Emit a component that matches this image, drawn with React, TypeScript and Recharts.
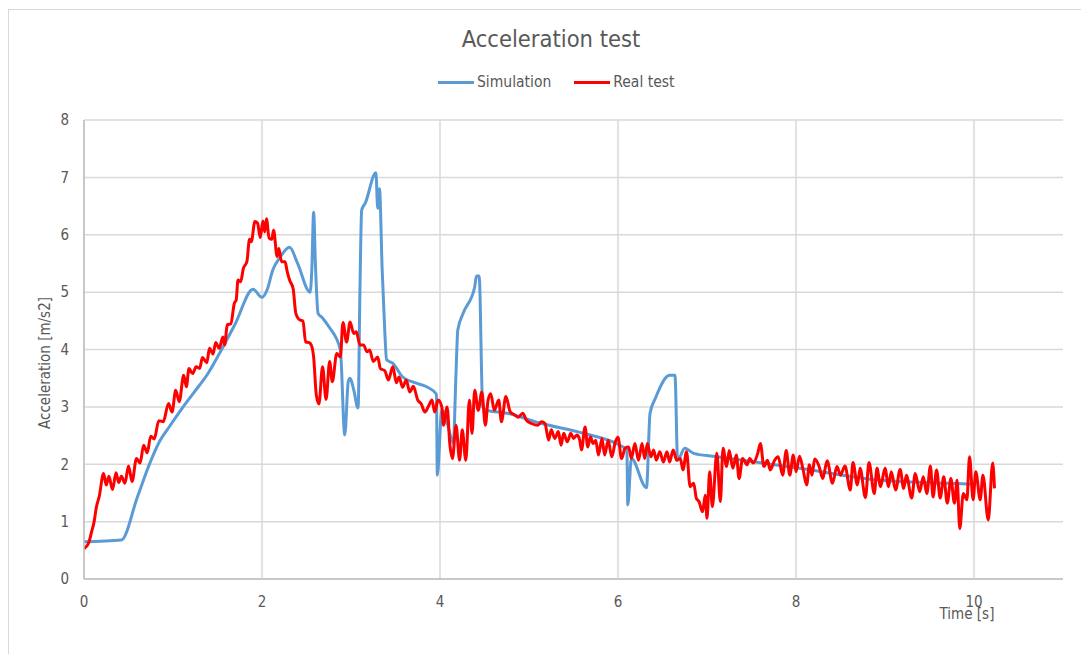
import { LineChart, Line, XAxis, YAxis, CartesianGrid } from 'recharts';

// [time s, acceleration m/s2]
const simulation: [number, number][] = [
  [0, 0.65], [0.42, 0.68], [0.6, 1.43], [0.74, 2.02], [0.85, 2.4], [0.97, 2.68], [1.1, 2.97], [1.23, 3.24],
  [1.4, 3.6], [1.56, 4.04], [1.7, 4.45], [1.9, 5.05], [2.0, 4.91], [2.06, 5.05], [2.12, 5.38],
  [2.2, 5.6], [2.31, 5.78], [2.4, 5.5], [2.54, 5.0], [2.56, 5.4], [2.58, 6.39], [2.6, 5.5],
  [2.63, 4.63], [2.68, 4.55], [2.75, 4.4], [2.88, 4.0], [2.93, 2.51], [2.97, 3.45], [2.99, 3.5],
  [3.03, 3.3], [3.08, 2.98], [3.1, 5.0], [3.12, 6.43], [3.16, 6.55], [3.28, 7.08], [3.3, 6.46],
  [3.32, 6.8], [3.35, 5.4], [3.38, 4.3], [3.4, 3.82], [3.47, 3.76], [3.58, 3.52], [3.7, 3.43],
  [3.85, 3.35], [3.96, 3.22], [3.97, 1.81], [4.02, 2.94], [4.06, 2.85], [4.1, 2.6], [4.15, 2.37],
  [4.18, 3.6], [4.2, 4.34], [4.26, 4.63], [4.39, 5.09], [4.41, 5.28], [4.44, 5.28], [4.48, 3.0],
  [4.52, 2.94], [4.75, 2.89], [5.12, 2.72], [5.61, 2.54], [6.02, 2.33], [6.1, 2.25], [6.11, 1.29],
  [6.15, 2.1], [6.32, 1.59], [6.36, 2.89], [6.42, 3.15], [6.58, 3.55], [6.64, 3.55], [6.67, 2.07],
  [6.75, 2.28], [6.85, 2.19], [7.07, 2.14], [7.82, 1.98], [8.04, 1.93], [8.94, 1.72], [9.69, 1.67],
  [10.0, 1.65],
];

const realTest: [number, number][] = [
  [0, 0.53], [0.05, 0.62], [0.09, 0.85], [0.11, 0.97], [0.14, 1.26], [0.17, 1.43], [0.22, 1.84],
  [0.25, 1.64], [0.28, 1.79], [0.32, 1.56], [0.36, 1.85], [0.39, 1.68], [0.42, 1.79], [0.46, 1.67],
  [0.5, 1.97], [0.54, 1.7], [0.59, 2.1], [0.63, 2.02], [0.67, 2.33], [0.71, 2.2], [0.75, 2.49],
  [0.79, 2.44], [0.84, 2.76], [0.89, 2.74], [0.95, 3.06], [0.99, 2.91], [1.03, 3.29], [1.07, 3.09],
  [1.12, 3.55], [1.15, 3.35], [1.18, 3.67], [1.22, 3.58], [1.26, 3.7], [1.3, 3.67], [1.33, 3.86],
  [1.38, 3.77], [1.41, 4.02], [1.45, 3.92], [1.48, 4.12], [1.52, 4.02], [1.56, 4.22], [1.58, 4.08],
  [1.61, 4.43], [1.65, 4.45], [1.69, 4.81], [1.71, 4.86], [1.73, 5.21], [1.76, 5.18], [1.79, 5.41],
  [1.83, 5.53], [1.86, 5.92], [1.88, 5.88], [1.92, 6.23], [1.95, 6.2], [1.98, 5.95], [2.01, 6.24],
  [2.03, 6.05], [2.05, 6.28], [2.08, 5.94], [2.11, 5.92], [2.13, 6.08], [2.17, 5.62], [2.19, 5.76],
  [2.22, 5.53], [2.26, 5.53], [2.28, 5.38], [2.31, 5.21], [2.35, 5.06], [2.38, 4.63], [2.43, 4.51],
  [2.46, 4.5], [2.49, 4.13], [2.53, 4.12], [2.56, 4.05], [2.58, 3.87], [2.61, 3.21], [2.64, 3.05],
  [2.68, 3.7], [2.72, 3.13], [2.76, 3.79], [2.79, 3.44], [2.84, 3.93], [2.88, 3.87], [2.91, 4.47],
  [2.95, 4.13], [2.99, 4.48], [3.03, 4.28], [3.06, 4.31], [3.1, 4.08], [3.14, 4.08], [3.18, 3.96],
  [3.21, 3.99], [3.25, 3.79], [3.3, 3.87], [3.33, 3.67], [3.38, 3.63], [3.42, 3.47], [3.47, 3.7],
  [3.51, 3.42], [3.54, 3.52], [3.58, 3.34], [3.62, 3.47], [3.66, 3.26], [3.7, 3.36], [3.75, 3.12],
  [3.79, 3.05], [3.83, 2.91], [3.87, 3.01], [3.91, 3.12], [3.94, 2.91], [3.98, 3.12], [4.02, 3.0],
  [4.04, 2.68], [4.08, 3.0], [4.11, 2.36], [4.14, 2.1], [4.18, 2.68], [4.22, 2.07], [4.25, 2.6],
  [4.29, 2.07], [4.33, 3.12], [4.36, 2.54], [4.39, 3.29], [4.43, 2.94], [4.47, 3.26], [4.51, 2.68],
  [4.54, 3.12], [4.57, 3.23], [4.61, 2.94], [4.66, 3.12], [4.69, 2.74], [4.74, 3.18], [4.79, 2.91],
  [4.84, 2.86], [4.88, 2.82], [4.93, 2.89], [4.97, 2.77], [5.03, 2.71], [5.1, 2.68], [5.14, 2.74],
  [5.18, 2.71], [5.22, 2.42], [5.25, 2.6], [5.29, 2.45], [5.33, 2.57], [5.36, 2.33], [5.39, 2.54],
  [5.43, 2.39], [5.47, 2.54], [5.5, 2.45], [5.54, 2.51], [5.57, 2.42], [5.59, 2.25], [5.63, 2.65],
  [5.66, 2.3], [5.69, 2.48], [5.72, 2.36], [5.75, 2.42], [5.78, 2.16], [5.82, 2.45], [5.85, 2.16],
  [5.89, 2.42], [5.93, 2.13], [5.97, 2.39], [6.0, 2.47], [6.04, 2.1], [6.08, 2.28], [6.12, 2.3],
  [6.15, 2.1], [6.19, 2.36], [6.23, 2.07], [6.27, 2.36], [6.3, 2.1], [6.33, 2.36], [6.37, 2.13],
  [6.4, 2.25], [6.43, 2.07], [6.47, 2.22], [6.51, 2.04], [6.55, 2.22], [6.58, 2.04], [6.62, 2.25],
  [6.66, 2.07], [6.7, 2.1], [6.73, 1.9], [6.77, 2.22], [6.81, 1.61], [6.85, 1.67], [6.88, 1.41],
  [6.91, 1.35], [6.95, 1.17], [6.98, 1.46], [7.0, 1.06], [7.03, 1.87], [7.06, 1.26], [7.11, 2.19],
  [7.15, 1.35], [7.18, 2.28], [7.22, 1.96], [7.25, 2.24], [7.29, 1.93], [7.33, 2.16], [7.36, 1.75],
  [7.4, 2.1], [7.45, 1.99], [7.48, 2.1], [7.52, 2.02], [7.57, 2.19], [7.6, 2.36], [7.64, 1.96],
  [7.68, 2.07], [7.71, 1.9], [7.76, 2.07], [7.8, 2.13], [7.85, 1.81], [7.89, 2.24], [7.93, 1.81],
  [7.97, 2.16], [8.0, 1.87], [8.04, 2.14], [8.08, 1.9], [8.12, 1.64], [8.15, 1.99], [8.18, 1.81],
  [8.21, 2.09], [8.26, 1.96], [8.3, 1.75], [8.35, 2.06], [8.41, 1.67], [8.46, 1.96], [8.5, 1.81],
  [8.55, 1.97], [8.61, 1.55], [8.64, 2.03], [8.69, 1.64], [8.72, 1.93], [8.78, 1.42], [8.82, 2.03],
  [8.88, 1.49], [8.91, 1.93], [8.95, 1.61], [9.0, 1.93], [9.04, 1.61], [9.07, 1.87], [9.12, 1.55],
  [9.17, 1.91], [9.21, 1.58], [9.24, 1.81], [9.3, 1.41], [9.34, 1.84], [9.39, 1.52], [9.43, 1.78],
  [9.47, 1.49], [9.51, 1.97], [9.54, 1.43], [9.58, 1.9], [9.62, 1.41], [9.66, 1.78], [9.7, 1.32],
  [9.74, 1.75], [9.78, 1.32], [9.81, 1.72], [9.84, 0.88], [9.88, 1.49], [9.92, 1.38], [9.95, 2.13],
  [9.99, 1.38], [10.02, 1.87], [10.07, 1.38], [10.1, 1.81], [10.16, 1.03], [10.21, 2.02], [10.23, 1.58],
];

const xTicks = [0, 2, 4, 6, 8, 10];
const yTicks = [0, 1, 2, 3, 4, 5, 6, 7, 8];

const FONT = "'Liberation Sans Narrow', 'DejaVu Sans Condensed', sans-serif";
const TEXT = '#595959';
const BLUE = '#5B9BD5';
const RED = '#FF0000';

const toRows = (pts: [number, number][]) => pts.map(([t, a]) => ({ t, a }));

export default function App() {
  const simRows = toRows(simulation);
  const realRows = toRows(realTest);

  return (
    <div style={{ position: 'fixed', left: 0, top: 0, width: 1081, height: 654, overflow: 'hidden', background: '#fff', fontFamily: FONT }}>
      <div style={{ position: 'absolute', left: 8, top: 9, width: 1200, height: 800, borderLeft: '1px solid #d9d9d9', borderTop: '1px solid #d9d9d9' }} />

      <div style={{ position: 'absolute', left: 0, width: 1102, top: 25, textAlign: 'center', fontSize: 23.5, color: TEXT }}>
        Acceleration test
      </div>

      <div style={{ position: 'absolute', left: 438, top: 73, display: 'flex', alignItems: 'center', fontSize: 15.5, color: TEXT }}>
        <span style={{ display: 'inline-block', width: 36, height: 3, background: BLUE, marginRight: 3 }} />
        <span style={{ marginRight: 23 }}>Simulation</span>
        <span style={{ display: 'inline-block', width: 36, height: 3, background: RED, marginRight: 3 }} />
        <span>Real test</span>
      </div>

      <div style={{ position: 'absolute', left: 45, top: 363, transform: 'translate(-50%, -50%) rotate(-90deg)', whiteSpace: 'nowrap', fontSize: 15, color: TEXT }}>
        Acceleration [m/s2]
      </div>

      <div style={{ position: 'absolute', left: 967, top: 614, transform: 'translate(-50%, -50%)', whiteSpace: 'nowrap', fontSize: 15, color: TEXT }}>
        Time [s]
      </div>

      <div style={{ position: 'absolute', left: 0, top: 0 }}>
        <LineChart width={1081} height={654} margin={{ top: 120, right: 18, bottom: 45, left: 24 }}>
          <CartesianGrid stroke="#d9d9d9" strokeWidth={1.5} verticalValues={xTicks} horizontalValues={yTicks} />
          <XAxis
            type="number"
            dataKey="t"
            domain={[0, 11]}
            ticks={xTicks}
            allowDataOverflow
            tickLine={false}
            axisLine={{ stroke: '#bfbfbf', strokeWidth: 1.5 }}
            tick={{ fill: TEXT, fontSize: 15, fontFamily: FONT }}
            tickMargin={11}
            height={30}
          />
          <YAxis
            type="number"
            dataKey="a"
            domain={[0, 8]}
            ticks={yTicks}
            tickLine={false}
            axisLine={{ stroke: '#bfbfbf', strokeWidth: 1.5 }}
            tick={{ fill: TEXT, fontSize: 15, fontFamily: FONT }}
            tickMargin={9}
            width={60}
          />
          <Line data={simRows} dataKey="a" type="monotone" stroke={BLUE} strokeWidth={3} dot={false} isAnimationActive={false} />
          <Line data={realRows} dataKey="a" type="monotone" stroke={RED} strokeWidth={3} dot={false} isAnimationActive={false} />
        </LineChart>
      </div>
    </div>
  );
}
